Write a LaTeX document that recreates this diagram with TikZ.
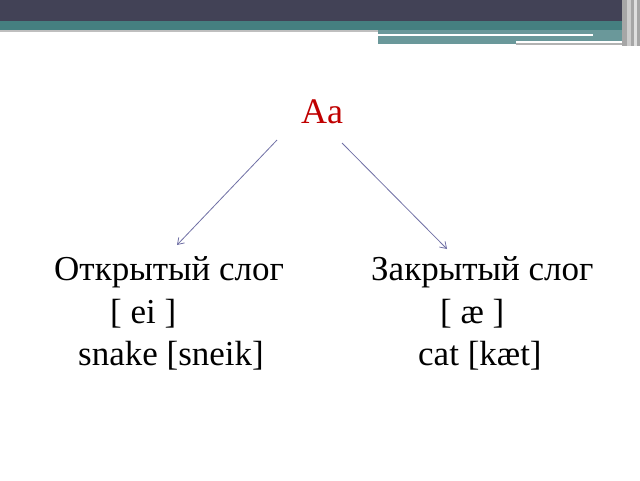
\documentclass[tikz,border=0pt]{standalone}
\usepackage{fontspec}
\setmainfont{Liberation Serif}
\usetikzlibrary{arrows.meta}
\definecolor{bandDark}{RGB}{66,66,86}
\definecolor{bandTeal}{RGB}{69,127,128}
\definecolor{arrowCol}{RGB}{112,112,165}
\definecolor{titleRed}{RGB}{192,0,0}
\tikzset{
  body/.style={inner sep=0pt, font=\fontsize{35}{41}\selectfont, anchor=base west},
  conn/.style={draw=arrowCol, line width=0.8pt, -{Straight Barb[length=6pt,width=8pt]}}
}
\begin{document}
\begin{tikzpicture}[x=1pt,y=-1pt]
\useasboundingbox (0,0) rectangle (640,480);
% banner
\fill[white] (0,0) rectangle (640,480);
\fill[bandDark] (0,0) rectangle (640,21);
\fill[bandTeal] (0,21) rectangle (640,30);
\fill[gray!50] (0,30) rectangle (378,32);
\fill[bandTeal!80!white] (378,30) rectangle (622,44);
\fill[white] (378,33.5) rectangle (593,35.5);
\fill[white] (516,41) rectangle (625,43);
\fill[gray!60] (516,43) rectangle (625,44.5);
\fill[gray!70] (622,0) rectangle (640,46);
\fill[gray!40] (627,0) rectangle (631,46);
\fill[gray!25] (634,0) rectangle (637,46);
% texts
\node[inner sep=0pt, anchor=base, text=titleRed, font=\fontsize{36}{40}\selectfont] (aa) at (322,123) {Aa};
\node[body] (open) at (54,280) {Открытый слог};
\node[body] (openS) at (110,323) {[ ei ]};
\node[body] (openW) at (78,365) {snake [sneik]};
\node[body] (closed) at (371,280) {Закрытый слог};
\node[body] (closedS) at (440,323) {[ æ ]};
\node[body] (closedW) at (418,365) {cat [kæt]};
% arrows
\coordinate (la) at (277,140);
\coordinate (lb) at (177,245);
\coordinate (ra) at (342,143);
\coordinate (rb) at (447,249);
\draw[conn] (la) -- (lb);
\draw[conn] (ra) -- (rb);
\end{tikzpicture}
\end{document}
